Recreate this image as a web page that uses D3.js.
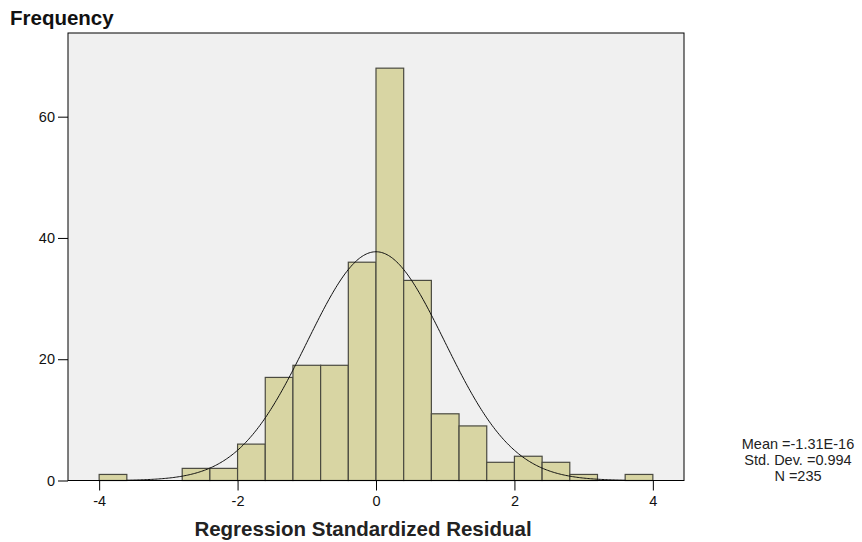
<!DOCTYPE html>
<html><head><meta charset="utf-8">
<script src="https://cdn.jsdelivr.net/npm/d3@7"></script>
<style>body{margin:0;background:#fff;} svg{display:block;}</style>
</head><body>
<svg id="c" width="862" height="542"></svg>
<script>
// Histogram bins (lower edge, upper edge) and frequencies
const binStarts = [-4.0,-3.6,-3.2,-2.8,-2.4,-2.0,-1.6,-1.2,-0.8,-0.4,0.0,0.4,0.8,1.2,1.6,2.0,2.4,2.8,3.2,3.6];
const binWidth = 0.4;
const counts    = [1,0,0,2,2,6,17,19,19,36,68,33,11,9,3,4,3,1,0,1];
const xTicks = [-4,-2,0,2,4];
const yTicks = [0,20,40,60];
const meanVal = -1.31e-16, sdVal = 0.994, nVal = 235;
const statLines = ["Mean =-1.31E-16","Std. Dev. =0.994","N =235"];

const svg = d3.select("#c");
const font = "'Liberation Sans', Arial, sans-serif";
const L = 68, R = 684, T = 33, B = 480.5;
const x = d3.scaleLinear().domain([-4.45, 4.45]).range([L, R]);
const y = d3.scaleLinear().domain([0, 73.8]).range([B, T]);

svg.append("rect").attr("x",L).attr("y",T).attr("width",R-L).attr("height",B-T)
  .attr("fill","#f0f0f0");

const data = binStarts.map((s,i)=>({s, c:counts[i]})).filter(d=>d.c>0);
svg.append("g").selectAll("rect").data(data).join("rect")
  .attr("x",d=>x(d.s)).attr("width",d=>x(d.s+binWidth)-x(d.s))
  .attr("y",d=>y(d.c)).attr("height",d=>y(0)-y(d.c))
  .attr("fill","#d8d5a3").attr("stroke","#4a4a40").attr("stroke-width",1.2);

// normal curve
const scaleN = nVal*binWidth/(sdVal*Math.sqrt(2*Math.PI));
const pts = d3.range(-3.6, 3.6001, 0.02).map(v=>[v, scaleN*Math.exp(-0.5*((v-meanVal)/sdVal)**2)]);
svg.append("path").datum(pts)
  .attr("d", d3.line().x(d=>x(d[0])).y(d=>y(d[1])).curve(d3.curveBasis))
  .attr("fill","none").attr("stroke","#111").attr("stroke-width",1);

svg.append("rect").attr("x",L).attr("y",T).attr("width",R-L).attr("height",B-T)
  .attr("fill","none").attr("stroke","#000").attr("stroke-width",1);

// axes
const xAxis = svg.append("g").attr("transform",`translate(0,${B})`)
  .call(d3.axisBottom(x).tickValues(xTicks).tickSize(10).tickPadding(5).tickFormat(d3.format("d")));
const yAxis = svg.append("g").attr("transform",`translate(${L},0)`)
  .call(d3.axisLeft(y).tickValues(yTicks).tickSize(10).tickPadding(3).tickFormat(d3.format("d")));
[xAxis,yAxis].forEach(a=>{
  a.select(".domain").remove();
  a.selectAll("line").attr("stroke","#000");
  a.selectAll("text").attr("font-family",font).attr("font-size","14.5px").attr("fill","#111");
});
xAxis.selectAll("text").text(d=>d<0? "-"+Math.abs(d) : d);

svg.append("text").attr("x",10).attr("y",25).text("Frequency")
  .attr("font-family",font).attr("font-weight","bold").attr("font-size","20.5px").attr("fill","#111");
svg.append("text").attr("x",363).attr("y",536).attr("text-anchor","middle")
  .text("Regression Standardized Residual")
  .attr("font-family",font).attr("font-weight","bold").attr("font-size","20.5px").attr("fill","#222");

svg.append("g").selectAll("text").data(statLines).join("text")
  .attr("x",798).attr("y",(d,i)=>449+i*16).attr("text-anchor","middle")
  .text(d=>d).attr("font-family",font).attr("font-size","14.5px").attr("fill","#222");
</script>
</body></html>
